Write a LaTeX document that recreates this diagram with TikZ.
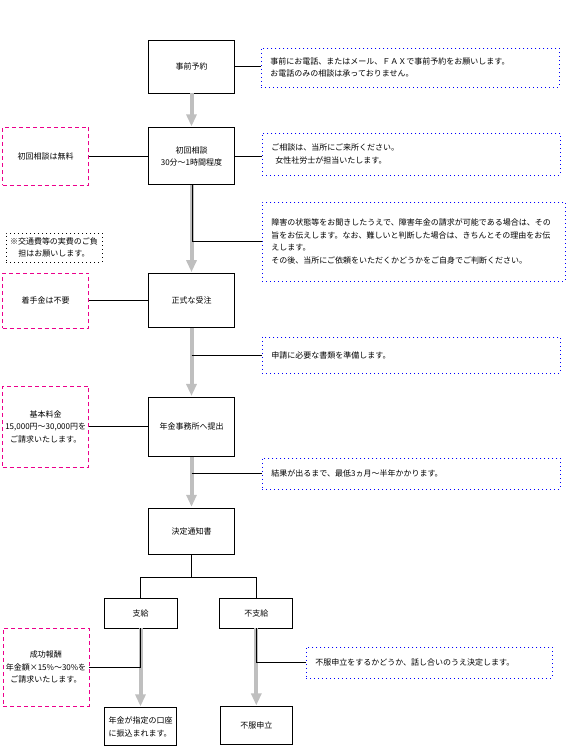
\documentclass[tikz,border=0pt]{standalone}
\usepackage{fontspec}
\setmainfont{Noto Sans CJK JP}
\usepackage{tikz}
\usetikzlibrary{positioning, calc, arrows.meta}

\begin{document}
\begin{tikzpicture}[x=1pt, y=1pt,
					every node/.style={font=\fontsize{8}{12.5}\selectfont},
					StepBox/.style={draw, line width=0.8pt, minimum width=86pt, align=center, inner sep=2pt},
					NoteBox/.style={draw=blue, line width=0.8pt, dash pattern=on 1pt off 3pt, align=left, inner xsep=9pt, anchor=west},
					FeeBox/.style={draw=magenta, line width=0.8pt, dash pattern=on 4pt off 3pt, minimum width=86pt, align=center, inner sep=1pt},
					FlowArrow/.style={draw=gray!50, line width=4pt, -{Triangle[width=10pt, length=12pt]}, shorten >=1pt},
					LinkLine/.style={line width=0.8pt}]

				\useasboundingbox (0,0) rectangle (567,748);

				% Nodes
				\node[StepBox, minimum height=53pt] (YoyakuNode) at (191.5,681.5) {事前予約};
				\node[StepBox, minimum height=57pt, below=34pt of YoyakuNode] (SoudanNode) {初回相談\\30分～1時間程度};
				\node[StepBox, minimum height=54pt, below=88pt of SoudanNode] (JuchuNode) {正式な受注};
				\node[StepBox, minimum height=59pt, below=69pt of JuchuNode] (TeishutsuNode) {年金事務所へ提出};
				\node[StepBox, minimum height=46pt, below=51pt of TeishutsuNode] (TsuchiNode) {決定通知書};
				\node[StepBox, minimum width=73pt, minimum height=30pt] (ShikyuNode) at (140.5,135) {支給};
				\node[StepBox, minimum width=73pt, minimum height=30pt, right=42pt of ShikyuNode] (FushikyuNode) {不支給};
				\node[StepBox, minimum width=72pt, minimum height=38pt, align=left, below=79pt of ShikyuNode] (FurikomiNode) {年金が指定の口座\\に振込まれます。};
				\node[StepBox, minimum width=72pt, minimum height=38pt, below=78pt of FushikyuNode] (FufukuNode) {不服申立};

				% Notes
				\node[NoteBox, text width=280pt, minimum height=39pt] (NoteOne) at (261,680.5) {事前にお電話、またはメール、ＦＡＸで事前予約をお願いします。\\お電話のみの相談は承っておりません。};
				\node[NoteBox, text width=280pt, minimum height=42pt] (NoteTwo) at (262,594) {ご相談は、当所にご来所ください。\\\hspace{4pt}女性社労士が担当いたします。};
				\node[NoteBox, text width=285pt, minimum height=79pt] (NoteThree) at (262,506.5) {障害の状態等をお聞きしたうえで、障害年金の請求が可能である場合は、その\\旨をお伝えします。なお、難しいと判断した場合は、きちんとその理由をお伝\\えします。\\その後、当所にご依頼をいただくかどうかをご自身でご判断ください。};
				\node[NoteBox, text width=280pt, minimum height=36pt] (NoteFour) at (262,393) {申請に必要な書類を準備します。};
				\node[NoteBox, text width=280pt, minimum height=31pt] (NoteFive) at (262,274.5) {結果が出るまで、最低3ヵ月～半年かかります。};
				\node[NoteBox, text width=228pt, minimum height=31pt] (NoteSix) at (306,85.5) {不服申立をするかどうか、話し合いのうえ決定します。};
				\node[draw, line width=0.8pt, dash pattern=on 1pt off 3pt, text width=92pt, minimum height=29pt, align=center, inner sep=2pt] (KotsuhiNote) at (54,500.5) {※交通費等の実費のご負\\担はお願いします。};

				% Fees
				\node[FeeBox, minimum height=58pt, left=59pt of SoudanNode] (FreeBox) {初回相談は無料};
				\node[FeeBox, minimum height=55pt, left=59pt of JuchuNode] (ChakushuBox) {着手金は不要};
				\node[FeeBox, minimum height=81pt, left=59pt of TeishutsuNode] (KihonBox) {基本料金\\15,000円～30,000円を\\ご請求いたします。};
				\node[FeeBox, minimum height=78pt] (SeikoBox) at (46,81) {成功報酬\\年金額×15\%～30\%を\\ご請求いたします。};

				% Arrows
				\draw[FlowArrow] (YoyakuNode) to (SoudanNode);
				\draw[FlowArrow] (SoudanNode) to (JuchuNode);
				\draw[FlowArrow] (JuchuNode) to (TeishutsuNode);
				\draw[FlowArrow] (TeishutsuNode) to (TsuchiNode);
				\draw[FlowArrow] (ShikyuNode) to (FurikomiNode);
				\draw[FlowArrow] (FushikyuNode) to (FufukuNode);

				% Lines
				\draw[LinkLine] (YoyakuNode.east) -- (YoyakuNode.east -| NoteOne.west);
				\draw[LinkLine] (SoudanNode.east) -- (SoudanNode.east -| NoteTwo.west);
				\draw[LinkLine] (SoudanNode.west) -- (SoudanNode.west -| FreeBox.east);
				\draw[LinkLine] ([xshift=1pt]SoudanNode.south) |- (NoteThree.west);
				\draw[LinkLine] (JuchuNode.west) -- (ChakushuBox.east);
				\draw[LinkLine] (JuchuNode.south |- NoteFour.west) -- (NoteFour.west);
				\draw[LinkLine] (TeishutsuNode.west) -- (KihonBox.east);
				\draw[LinkLine] (TeishutsuNode.south |- NoteFive.west) -- (NoteFive.west);
				\draw[LinkLine] (TsuchiNode.south) -- ++(0,-23) coordinate (BranchPoint);
				\draw[LinkLine] (ShikyuNode.north) |- (BranchPoint) -| (FushikyuNode.north);
				\draw[LinkLine] (ShikyuNode.south) |- (SeikoBox.east);
				\draw[LinkLine] (FushikyuNode.south) |- (NoteSix.west);
			\end{tikzpicture}
\end{document}
